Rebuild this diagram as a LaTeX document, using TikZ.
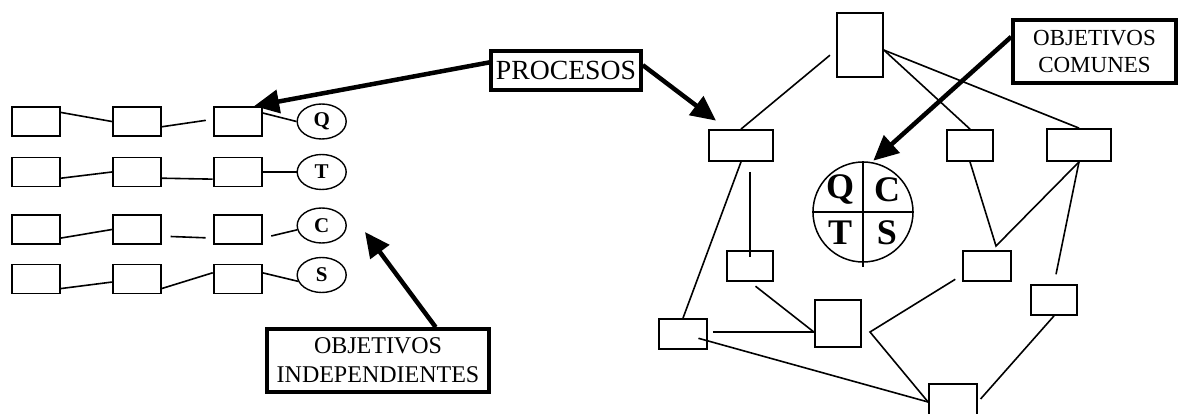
\documentclass[tikz,border=0pt]{standalone}
\usepackage{fontspec}
\setmainfont{Liberation Serif}
\usetikzlibrary{shapes.geometric,arrows.meta,positioning}

\begin{document}
\begin{tikzpicture}[
    x=1pt, y=-1pt,
    node distance=51pt,
    stepbox/.style={rectangle, draw=black, line width=1.8pt, inner sep=0pt},
    rowbox/.style={stepbox, minimum width=48pt, minimum height=29pt},
    goal/.style={ellipse, draw=black, line width=1.4pt, minimum width=49pt, minimum height=35pt, inner sep=0pt, font=\fontsize{21}{21}\selectfont\bfseries},
    labelbox/.style={rectangle, draw=black, line width=3.6pt, inner sep=0pt, align=center},
    quad/.style={inner sep=0pt, font=\fontsize{36}{36}\selectfont\bfseries},
    link/.style={line width=1.6pt},
    arrow/.style={-{Triangle[length=25pt, width=23pt]}, line width=4.5pt}
]
\clip (0,0) rectangle (1181,414);

% === INDEPENDENT PROCESSES (left rows) ===
\node[rowbox] (b11) at (36,121.5) {};
\node[rowbox, right=of b11] (b12) {};
\node[rowbox, right=of b12] (b13) {};
\node[goal, right=34pt of b13] (eQ) {Q};

\node[rowbox] (b21) at (36,172) {};
\node[rowbox, right=of b21] (b22) {};
\node[rowbox, right=of b22] (b23) {};
\node[goal, right=34pt of b23] (eT) {T};

\node[rowbox] (b31) at (36,229.5) {};
\node[rowbox, right=of b31] (b32) {};
\node[rowbox, right=of b32] (b33) {};
\node[goal, right=34pt of b33, yshift=4pt] (eC) {C};

\node[rowbox] (b41) at (36,279) {};
\node[rowbox, right=of b41] (b42) {};
\node[rowbox, right=of b42] (b43) {};
\node[goal, right=34pt of b43, yshift=4pt] (eS) {S};

\draw[link] (b11.20) -- (b12.west);
\draw[link, shorten >=7pt] (b12.-12) -- (b13.175);
\draw[link] (b13.19) -- (eQ.west);

\draw[link] (b21.-14) -- (b22.west);
\draw[link] (b22.-14) -- (b23.196);
\draw[link] (b23.east) -- (eT.west);

\draw[link] (b31.-19) -- (b32.west);
\draw[link, shorten <=9pt, shorten >=7pt] (b32.-15) -- (b33.199);
\draw[link, shorten <=9pt] (b33.-19) -- (eC.190);

\draw[link] (b41.-21) -- (b42.187);
\draw[link] (b42.-21) -- (b43.166);
\draw[link] (b43.14) -- (eS.195);

% === LABELS ===
\node[labelbox, minimum width=150pt, minimum height=39pt, font=\fontsize{27.7}{30}\selectfont] (proc) at (566,70.5) {PROCESOS};
\node[labelbox, minimum width=222pt, minimum height=63pt, font=\fontsize{24}{29}\selectfont] (indep) at (378,360.5) {OBJETIVOS\\INDEPENDIENTES};
\node[labelbox, minimum width=163pt, minimum height=63pt, font=\fontsize{23}{28}\selectfont] (comun) at (1094.5,51.5) {OBJETIVOS\\COMUNES};

% === SHARED PROCESSES (right network) ===
\node[stepbox, minimum width=46pt, minimum height=64pt] (top) at (860,45) {};
\node[stepbox, minimum width=64pt, minimum height=31pt] (bA) at (741,145.5) {};
\node[stepbox, minimum width=46pt, minimum height=31pt] (bB) at (970,145.5) {};
\node[stepbox, minimum width=64pt, minimum height=32pt] (bC) at (1079,145) {};
\node[stepbox, minimum width=46pt, minimum height=30pt] (bD) at (750,266) {};
\node[stepbox, minimum width=46pt, minimum height=47pt] (bE) at (838,323.5) {};
\node[stepbox, minimum width=48pt, minimum height=30pt] (bF) at (683,334) {};
\node[stepbox, minimum width=48pt, minimum height=30pt] (bG) at (987,266) {};
\node[stepbox, minimum width=46pt, minimum height=30pt] (bH) at (1054,300) {};
\node[stepbox, minimum width=48pt, minimum height=36pt] (bI) at (953,402) {};

\coordinate (ejoint) at (870,332);
\coordinate (gjoint) at (996,246);

\draw[link, shorten <=8pt] (top.192) -- (bA.north);
\draw[link] (top.-12) -- (bB.north);
\draw[link] (top.-12) -- (bC.north);
\draw[link] (bA.south) -- (bF.north);
\draw[link, shorten <=10pt, shorten >=-7pt] (bA.south -| bD.north) -- (bD.north);
\draw[link, shorten <=7pt] (bD.south) -- (bE.200);
\draw[link, shorten <=5pt] (bF.east |- bE.200) -- (bE.200);
\draw[link, shorten <=16pt] (bF.center) -- (bI.west);
\draw[link, shorten <=8pt] (bG.200) -- (ejoint) -- (bI.west);
\draw[link] (bB.south) -- (gjoint) -- (bC.south);
\draw[link, shorten >=10pt] (bC.south) -- (bH.north);
\draw[link, shorten >=4pt] (bH.south) -- (bI.east);

% === COMMON GOALS (QCTS circle) ===
\node[circle, draw=black, line width=1.5pt, minimum size=100pt, inner sep=0pt] (qcts) at (863,212) {};
\draw[line width=1.5pt] (qcts.north) -- ([yshift=-4pt]qcts.south);
\draw[line width=1.5pt] (qcts.west) -- (qcts.east);
\node[quad] (qq) at ([shift={(-23pt,22pt)}]qcts.center) {Q};
\node[quad] (qc) at ([shift={(24pt,22pt)}]qcts.center) {C};
\node[quad] (qt) at ([shift={(-23pt,-21pt)}]qcts.center) {T};
\node[quad] (qs) at ([shift={(24pt,-21pt)}]qcts.center) {S};

% === ARROWS ===
\coordinate (indep-tip) at (365,232);
\draw[arrow] (proc.174) -- (b13.43);
\draw[arrow, shorten >=14pt] (proc.4) -- (bA.130);
\draw[arrow] (indep.30) -- (indep-tip);
\draw[arrow, shorten >=2pt] (comun.170) -- (qcts.80);

\end{tikzpicture}
\end{document}
